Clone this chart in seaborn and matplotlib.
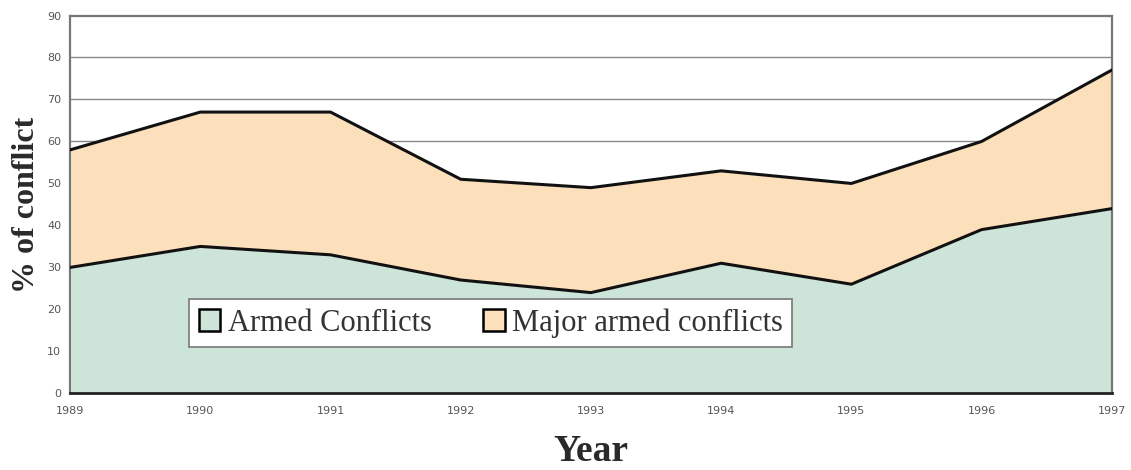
import pandas as pd
import seaborn as sns
import matplotlib.pyplot as plt
from matplotlib.patches import Patch

years = [1989, 1990, 1991, 1992, 1993, 1994, 1995, 1996, 1997]
armed = [30, 35, 33, 27, 24, 31, 26, 39, 44]
major = [28, 32, 34, 24, 25, 22, 24, 21, 33]
series_names = ["Armed Conflicts", "Major armed conflicts"]
colors = ["#cde5d8", "#fcdfbb"]

df = pd.DataFrame({"Year": years, "armed": armed, "major": major})
df["total"] = df["armed"] + df["major"]

sns.set_style("white")
fig, ax = plt.subplots(figsize=(11.31, 4.70), dpi=100)
fig.subplots_adjust(left=0.062, right=0.983, top=0.967, bottom=0.163)

ax.stackplot(df["Year"], df["armed"], df["major"], colors=colors, zorder=1)
sns.lineplot(data=df, x="Year", y="armed", color="#111111", lw=2.2, ax=ax, zorder=3)
sns.lineplot(data=df, x="Year", y="total", color="#111111", lw=2.2, ax=ax, zorder=3)

for v in [60, 70, 80]:
    ax.axhline(v, color="#888888", lw=1.0, zorder=0.5)

ax.set_xlim(1989, 1997)
ax.set_ylim(0, 90)
ax.set_yticks(range(0, 91, 10))
ax.set_xticks(years)
ax.tick_params(axis="both", labelsize=8, colors="#555555", length=3, direction="out")
ax.tick_params(axis="x", pad=6)
for s in ["top", "right", "left"]:
    ax.spines[s].set_color("#777777")
    ax.spines[s].set_linewidth(1.6)
ax.spines["bottom"].set_color("#222222")
ax.spines["bottom"].set_linewidth(2)

ax.set_ylabel("% of conflict", family="Liberation Serif", fontsize=23, fontweight="bold",
              color="#2a2a2a", labelpad=4)
ax.set_xlabel("Year", family="Liberation Serif", fontsize=27, fontweight="bold",
              color="#2a2a2a", labelpad=13)

handles = [Patch(facecolor=c, edgecolor="black", lw=1.8) for c in colors]
leg = ax.legend(handles, series_names, loc="center", bbox_to_anchor=(0.404, 0.186),
                ncol=2, frameon=True, fancybox=False, framealpha=1,
                handlelength=0.7, handleheight=0.7,
                handletextpad=0.25, columnspacing=1.7, borderpad=0.3,
                prop={"family": "Liberation Serif", "size": 22})
for t in leg.get_texts():
    t.set_color("#333333")
leg.get_frame().set_edgecolor("#777777")
leg.get_frame().set_facecolor("white")
leg.get_frame().set_linewidth(1.2)

fig.savefig("out.png", dpi=100)
